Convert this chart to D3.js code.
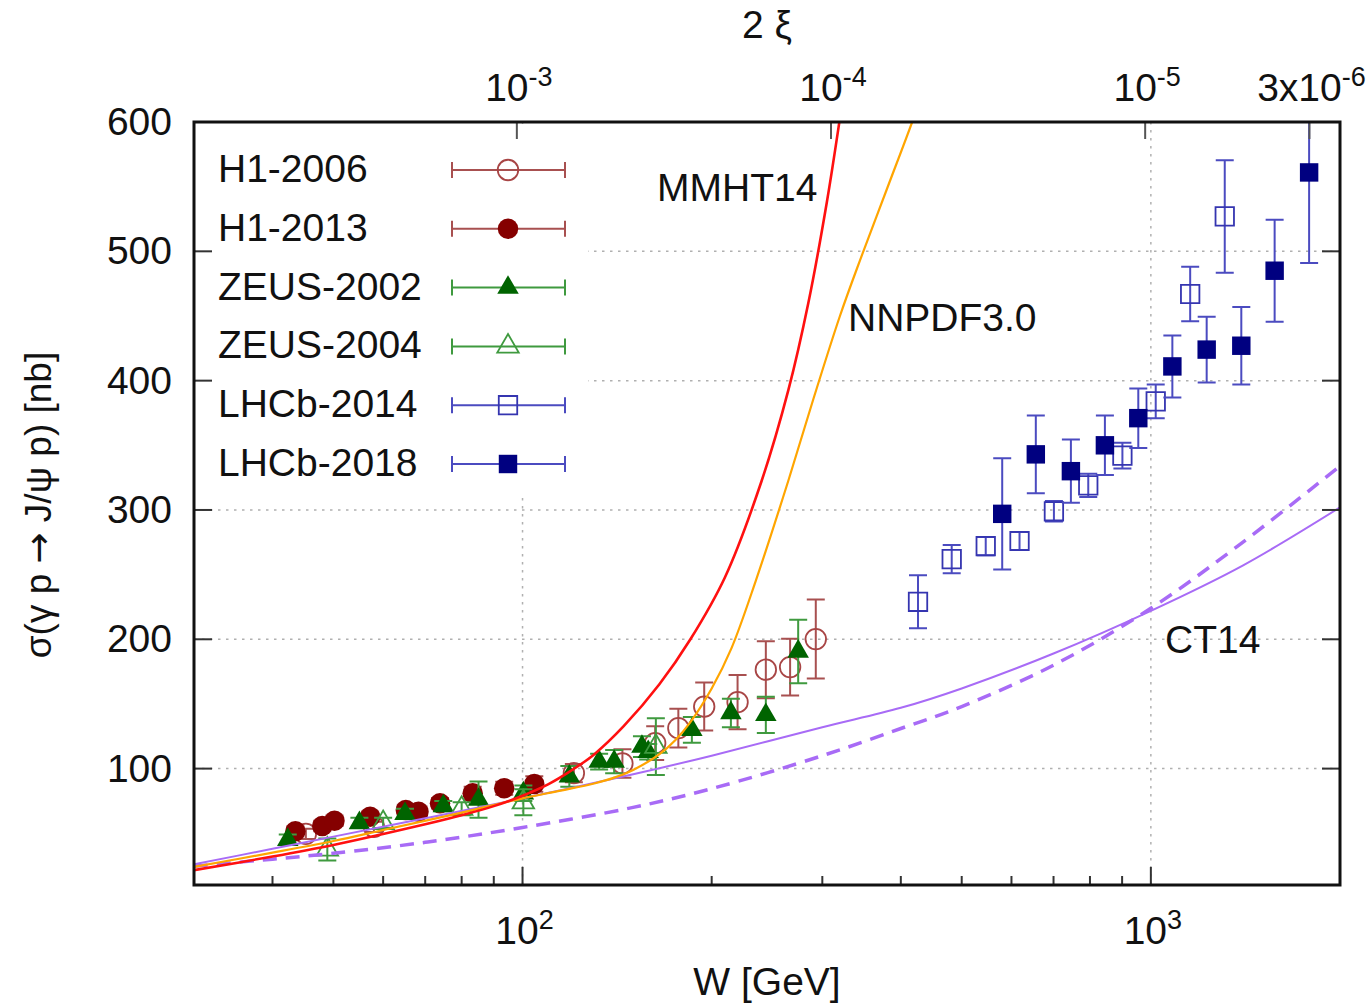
<!DOCTYPE html>
<html>
<head>
<meta charset="utf-8">
<script src="https://cdn.jsdelivr.net/npm/d3@7"></script>
<style>
  body { margin: 0; background: #fff; }
  svg { display: block; }
  text { font-family: "Liberation Sans", Arial, Helvetica, sans-serif; fill: #111; }
</style>
</head>
<body>
<svg id="chart" width="1372" height="1005"></svg>
<script>
// ---- measurements: W [GeV], cross section [nb], error [nb] ----
const h1_2006_W     = [45.2, 58, 120.7, 144.2, 162.6, 177, 194.6, 219.9, 243.9, 266.6, 292.9];
const h1_2006_sigma = [49.5, 55, 96.5, 104, 119.7, 131.3, 148, 151.4, 176.5, 178.5, 200.2];
const h1_2006_err   = [4, 4, 7, 11, 13, 15, 18.5, 21, 22, 22, 30.6];

const h1_2013_W     = [43.5, 48, 50.2, 57.2, 65.2, 68.3, 73.9, 83.3, 93.5, 104.4];
const h1_2013_sigma = [51.5, 55.6, 59.7, 62.8, 68, 66.7, 73.2, 80.9, 84.8, 88.1];
const h1_2013_err   = [4, 4, 4, 4, 4, 4, 4, 5, 5, 6];

const zeus_2002_W     = [42.3, 55, 65, 74.8, 85.1, 100.3, 118.7, 132.4, 139.9, 154.9, 158.5, 186, 214.6, 243.9, 274.6];
const zeus_2002_sigma = [45, 58, 65, 71, 76, 81, 94, 105.4, 105.4, 117, 113, 130, 143, 141.6, 190.6];
const zeus_2002_err   = [4, 4, 4, 4, 14, 6, 8, 6, 9, 8, 6, 10, 11, 14, 24.5];

const zeus_2004_W     = [48.9, 60, 80, 100.3, 163];
const zeus_2004_sigma = [37.5, 58, 69, 74, 117];
const zeus_2004_err   = [8.5, 4, 5, 10, 22];

const lhcb_2014_W     = [426, 482, 546, 618, 701, 795, 901, 1018, 1155, 1311];
const lhcb_2014_sigma = [229, 262, 272, 276, 299, 319, 342, 384, 467, 527];
const lhcb_2014_err   = [20.5, 11, 7, 7, 8, 9, 10, 13, 21, 43.5];

const lhcb_2018_W     = [580, 656, 746, 845, 955, 1082, 1227, 1393, 1574, 1786];
const lhcb_2018_sigma = [297, 343, 330, 350, 371, 411, 424, 427, 485, 561];
const lhcb_2018_err   = [43, 30, 24.5, 23, 23, 24, 25.5, 30, 39.5, 70];

// ---- predictions ----
const mmht_W     = [30, 40, 50, 60, 70, 80, 90, 100, 110, 120, 130, 145, 165, 185, 210, 240, 265, 285, 305, 320, 335];
const mmht_sigma = [21.5, 32, 41, 49.5, 57, 64, 71, 79, 88, 99, 111, 133, 165, 200, 248, 322, 393, 460, 538, 603, 670];

const nnpdf_W     = [30, 40, 50, 60, 80, 100, 115, 130, 140, 150, 165, 175, 185, 200, 215, 235, 265, 290, 320, 345, 380, 417, 440];
const nnpdf_sigma = [24, 35, 44, 52.5, 66, 77, 83, 88.5, 93, 99, 111, 122, 136, 162, 193, 245, 323, 385, 450, 494, 548, 600, 632];

const ct14_W     = [30, 40, 50, 70, 100, 150, 200, 300, 400, 500, 700, 1000, 1400, 2000];
const ct14_sigma = [26, 38, 47.4, 61.6, 77, 95.6, 110, 132, 147, 162, 189, 222, 257, 302];

const ct14d_W     = [30, 40, 50, 70, 100, 150, 200, 300, 400, 500, 700, 1000, 1400, 2000];
const ct14d_sigma = [24.5, 30, 34.5, 43, 54.5, 70, 84.5, 110, 131, 148, 180, 224, 275, 334];

// ---- axes ----
const yTicks = [100, 200, 300, 400, 500, 600];
const xMajorTicks = [100, 1000];
const xMajorLabels = [["10", "2"], ["10", "3"]];
const xMinorTicks = [40, 50, 60, 70, 80, 90, 200, 300, 400, 500, 600, 700, 800, 900];
const xiTicks = [1e-3, 1e-4, 1e-5, 3e-6];
const xiLabels = [["10", "-3"], ["10", "-4"], ["10", "-5"], ["3x10", "-6"]];
const mJpsi = 3.097; // GeV, 2xi = M^2 / W^2

const legendNames = ["H1-2006", "H1-2013", "ZEUS-2002", "ZEUS-2004", "LHCb-2014", "LHCb-2018"];

// ---- layout ----
const pL = 194, pR = 1340, pT = 122, pB = 885;
const svg = d3.select("#chart");

const x = d3.scaleLog().domain([30, 2000]).range([pL, pR]);
const y = d3.scaleLinear().domain([10, 600]).range([pB, pT]);
const xXi = d3.scaleLog()
  .domain([mJpsi * mJpsi / (30 * 30), mJpsi * mJpsi / (2000 * 2000)])
  .range([pL, pR]);

const FS = 39, SUP = 27;

// clip for everything inside the frame
svg.append("defs").append("clipPath").attr("id", "plotclip")
  .append("rect").attr("x", pL).attr("y", pT)
  .attr("width", pR - pL).attr("height", pB - pT);

// ---- grid ----
const grid = svg.append("g")
  .attr("stroke", "#b0b0b0").attr("stroke-width", 1.5)
  .attr("stroke-dasharray", "2.5,5.5");
grid.selectAll("line.h").data(yTicks.filter(v => v < 600)).join("line")
  .attr("x1", pL).attr("x2", pR)
  .attr("y1", d => y(d)).attr("y2", d => y(d));
grid.selectAll("line.v").data(xMajorTicks).join("line")
  .attr("x1", d => x(d)).attr("x2", d => x(d))
  .attr("y1", pT).attr("y2", pB);

// legend backdrop hides the grid behind the key
svg.append("rect").attr("x", pL + 2).attr("y", pT + 2)
  .attr("width", 392).attr("height", 372).attr("fill", "#fff");

// ---- series styling ----
const symCircle = d3.symbol().type(d3.symbolCircle).size(330);
const symTri = d3.symbol().type(d3.symbolTriangle).size(200);
const symSq = d3.symbol().type(d3.symbolSquare).size(340);

const series = [
  { W: h1_2006_W, s: h1_2006_sigma, e: h1_2006_err, bar: "#a85050", sym: symCircle, fill: "none", stroke: "#a84545" },
  { W: h1_2013_W, s: h1_2013_sigma, e: h1_2013_err, bar: "#a85050", sym: symCircle, fill: "#850000", stroke: "none" },
  { W: zeus_2002_W, s: zeus_2002_sigma, e: zeus_2002_err, bar: "#3f9a3f", sym: symTri, fill: "#006400", stroke: "none" },
  { W: zeus_2004_W, s: zeus_2004_sigma, e: zeus_2004_err, bar: "#3f9a3f", sym: symTri, fill: "none", stroke: "#3f9a3f" },
  { W: lhcb_2014_W, s: lhcb_2014_sigma, e: lhcb_2014_err, bar: "#4b4bc0", sym: symSq, fill: "none", stroke: "#3535b0" },
  { W: lhcb_2018_W, s: lhcb_2018_sigma, e: lhcb_2018_err, bar: "#4b4bc0", sym: symSq, fill: "#000080", stroke: "none" }
];

const dataLayer = svg.append("g").attr("clip-path", "url(#plotclip)");
const CAP = 9;
series.forEach(sr => {
  const pts = sr.W.map((w, i) => ({ w, s: sr.s[i], e: sr.e[i] }));
  const g = dataLayer.append("g");
  const eb = g.append("g").attr("stroke", sr.bar).attr("stroke-width", 2).attr("fill", "none");
  eb.selectAll("path").data(pts).join("path")
    .attr("d", d => {
      const cx = x(d.w), y1 = y(d.s + d.e), y2 = y(d.s - d.e);
      return `M${cx},${y1}V${y2}M${cx - CAP},${y1}H${cx + CAP}M${cx - CAP},${y2}H${cx + CAP}`;
    });
  g.selectAll("path.m").data(pts).join("path").attr("class", "m")
    .attr("transform", d => `translate(${x(d.w)},${y(d.s)})`)
    .attr("d", sr.sym())
    .attr("fill", sr.fill).attr("stroke", sr.stroke).attr("stroke-width", 1.8);
});

// ---- prediction curves ----
const line = d3.line().x(d => x(d[0])).y(d => y(d[1])).curve(d3.curveCatmullRom.alpha(0.5));
const curveLayer = svg.append("g").attr("clip-path", "url(#plotclip)").attr("fill", "none");
curveLayer.append("path").datum(ct14d_W.map((w, i) => [w, ct14d_sigma[i]]))
  .attr("d", line).attr("stroke", "#a86bf6").attr("stroke-width", 3.5).attr("stroke-dasharray", "14,9");
curveLayer.append("path").datum(ct14_W.map((w, i) => [w, ct14_sigma[i]]))
  .attr("d", line).attr("stroke", "#a86bf6").attr("stroke-width", 2);
curveLayer.append("path").datum(nnpdf_W.map((w, i) => [w, nnpdf_sigma[i]]))
  .attr("d", line).attr("stroke", "#ffa500").attr("stroke-width", 2.2);
curveLayer.append("path").datum(mmht_W.map((w, i) => [w, mmht_sigma[i]]))
  .attr("d", line).attr("stroke", "#ff1010").attr("stroke-width", 2.6);

// curve names
svg.append("text").attr("x", 657).attr("y", 201).attr("font-size", FS).text("MMHT14");
svg.append("text").attr("x", 848).attr("y", 331).attr("font-size", FS).text("NNPDF3.0");
svg.append("text").attr("x", 1165).attr("y", 653).attr("font-size", FS).text("CT14");

// ---- legend ----
const legend = svg.append("g");
legendNames.forEach((name, i) => {
  const sr = series[i];
  const base = 182 + i * 58.8;
  const ly = base - 12;
  legend.append("text").attr("x", 218).attr("y", base).attr("font-size", FS).text(name);
  legend.append("path")
    .attr("d", `M452,${ly}H565M452,${ly - 8}V${ly + 8}M565,${ly - 8}V${ly + 8}`)
    .attr("stroke", sr.bar).attr("stroke-width", 2).attr("fill", "none");
  legend.append("path").attr("transform", `translate(508,${ly})`).attr("d", sr.sym())
    .attr("fill", sr.fill)
    .attr("stroke", sr.stroke).attr("stroke-width", 1.8);
});

// ---- frame and ticks ----
const ticks = svg.append("g").attr("stroke", "#333").attr("stroke-width", 2);
yTicks.forEach(v => {
  ticks.append("line").attr("x1", pL).attr("x2", pL + 18).attr("y1", y(v)).attr("y2", y(v));
  ticks.append("line").attr("x1", pR - 18).attr("x2", pR).attr("y1", y(v)).attr("y2", y(v));
});
xMajorTicks.forEach(w => {
  ticks.append("line").attr("x1", x(w)).attr("x2", x(w)).attr("y1", pB).attr("y2", pB - 18);
});
xMinorTicks.forEach(w => {
  ticks.append("line").attr("x1", x(w)).attr("x2", x(w)).attr("y1", pB).attr("y2", pB - 9);
});
xiTicks.forEach(v => {
  ticks.append("line").attr("x1", xXi(v)).attr("x2", xXi(v)).attr("y1", pT).attr("y2", pT + 17)
    .attr("stroke", "#555");
});

svg.append("rect").attr("x", pL).attr("y", pT)
  .attr("width", pR - pL).attr("height", pB - pT)
  .attr("fill", "none").attr("stroke", "#111").attr("stroke-width", 3);

// tick labels
yTicks.forEach(v => {
  svg.append("text").attr("x", 172).attr("y", y(v) + 13).attr("text-anchor", "end")
    .attr("font-size", FS).text(v);
});
function supText(xp, yp, parts) {
  const t = svg.append("text").attr("x", xp).attr("y", yp).attr("text-anchor", "middle").attr("font-size", FS);
  t.append("tspan").text(parts[0]);
  t.append("tspan").attr("dy", -15).attr("font-size", SUP).text(parts[1]);
  return t;
}
xMajorTicks.forEach((w, i) => supText(x(w) + 2, 944, xMajorLabels[i]));
xiTicks.forEach((v, i) => supText(xXi(v) + 2, 101, xiLabels[i]));

// axis titles
svg.append("text").attr("x", 767).attr("y", 995).attr("text-anchor", "middle")
  .attr("font-size", FS).text("W [GeV]");
svg.append("text").attr("x", 767).attr("y", 38).attr("text-anchor", "middle")
  .attr("font-size", FS).text("2 ξ");
const yTitle = svg.append("text").attr("transform", "translate(51,505) rotate(-90)")
  .attr("text-anchor", "middle").attr("font-size", 37);
yTitle.append("tspan").text("σ(γ p ");
yTitle.append("tspan").attr("font-family", "DejaVu Sans").text("→");
yTitle.append("tspan").text(" J/ψ p) [nb]");
</script>
</body>
</html>
